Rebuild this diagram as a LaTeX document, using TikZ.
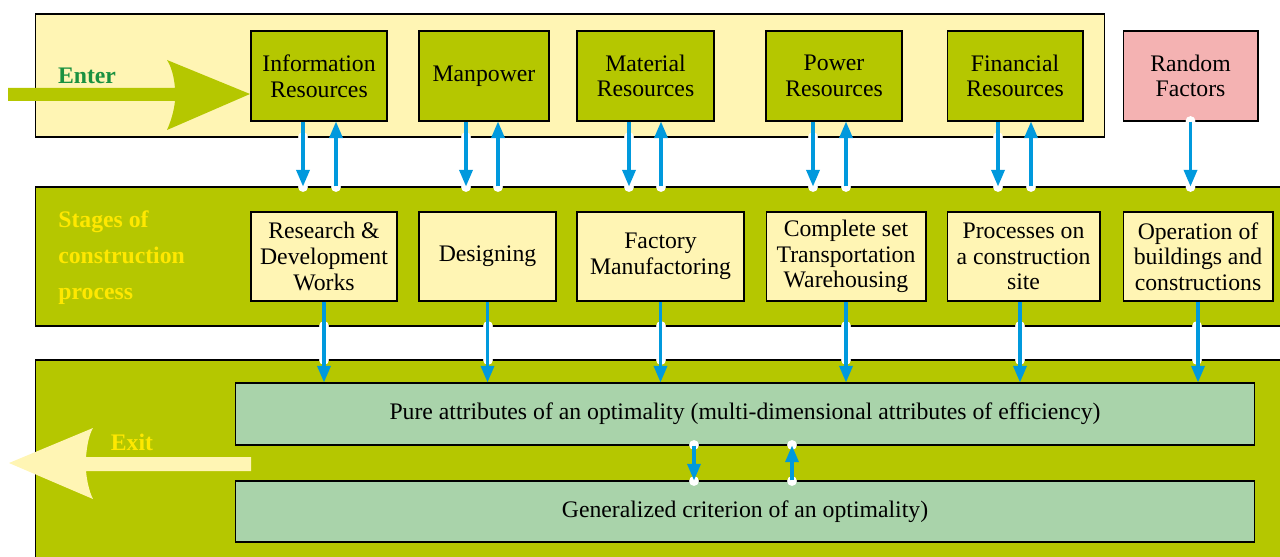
\documentclass[tikz,border=0pt]{standalone}
\usepackage{fontspec}
\setmainfont{Liberation Serif}
\usetikzlibrary{arrows.meta}

\definecolor{bandgreen}{RGB}{181,199,0}
\definecolor{paleyellow}{RGB}{255,245,180}
\definecolor{palepink}{RGB}{244,178,178}
\definecolor{palegreen}{RGB}{169,211,170}
\definecolor{flowblue}{RGB}{0,153,221}
\definecolor{entergreen}{RGB}{26,145,64}
\definecolor{labelyellow}{RGB}{255,232,0}

\begin{document}
\begin{tikzpicture}[x=0.02cm,y=-0.02cm,
  band/.style={draw=black,line width=0.6pt,inner sep=0pt},
  box/.style={draw=black,line width=0.6pt,align=center,inner sep=2pt,
    font=\fontsize{13.5pt}{14.6pt}\selectfont},
  res/.style={box,fill=bandgreen,minimum height=1.8cm},
  stage/.style={box,fill=paleyellow,minimum height=1.78cm},
  crit/.style={box,fill=palegreen,minimum width=20.4cm},
  flow/.style={draw=flowblue,line width=1.8pt,-{Triangle[length=9.5pt,width=7.5pt]}},
  dot/.style={fill=white},
  tag/.style={font=\fontsize{13.5pt}{20.4pt}\selectfont\bfseries,inner sep=0pt}]
  \useasboundingbox (0,0) rectangle (1280,557);

  % bands
  \node[band,fill=paleyellow,minimum width=21.4cm,minimum height=2.46cm] (inbox) at (570,75.5) {};
  \node[band,fill=bandgreen,minimum width=25.3cm,minimum height=2.78cm] (stages) at (667.5,256.5) {};
  \node[band,fill=bandgreen,minimum width=25.3cm,minimum height=4.2cm] (outbox) at (667.5,465) {};

  % enter / exit
  \fill[bandgreen] (8,88) -- (175,88) .. controls (174,76) and (171,66) .. (167,60) -- (250,94)
    -- (167,130) .. controls (171,121) and (174,111) .. (175,101) -- (8,101) -- cycle;
  \fill[paleyellow] (251,457) -- (86,457) .. controls (87,445) and (89,435) .. (93,428) -- (9,463)
    -- (93,499) .. controls (89,491) and (87,481) .. (86,471) -- (251,471) -- cycle;
  \node[tag,text=entergreen] (enter) at (87,76) {Enter};
  \node[tag,text=labelyellow] (exit) at (132,442) {Exit};
  \node[tag,text=labelyellow,align=left,anchor=west] (stagetag) at (58,258) {Stages of\\construction\\process};

  % resources
  \node[res,minimum width=2.72cm] (info) at (319,76) {Information\\Resources};
  \node[res,minimum width=2.6cm] (man) at (484,76) {Manpower};
  \node[res,minimum width=2.74cm] (mat) at (645.5,76) {Material\\Resources};
  \node[res,minimum width=2.72cm] (pow) at (834,76) {Power\\Resources};
  \node[res,minimum width=2.72cm] (fin) at (1015,76) {Financial\\Resources};
  \node[res,fill=palepink,minimum width=2.7cm] (rand) at (1190.5,76) {Random\\Factors};

  % stages
  \node[stage,minimum width=2.92cm] (rd) at (324,256.5) {Research \&\\Development\\Works};
  \node[stage,minimum width=2.74cm] (des) at (487.5,256.5) {Designing};
  \node[stage,minimum width=3.34cm] (fac) at (660.5,256.5) {Factory\\Manufactoring};
  \node[stage,minimum width=3.2cm] (tra) at (846,256.5) {Complete set\\Transportation\\Warehousing};
  \node[stage,minimum width=3.06cm] (site) at (1023.5,256.5) {Processes on\\a construction\\site};
  \node[stage,minimum width=3.0cm] (oper) at (1198,256.5) {Operation of\\buildings and\\constructions};

  % criteria
  \node[crit,minimum height=1.24cm] (pure) at (745,414) {Pure attributes of an optimality (multi-dimensional attributes of efficiency)};
  \node[crit,minimum height=1.22cm] (gen) at (745,511.5) {Generalized criterion of an optimality)};

  % joints
  \foreach \x in {303,466,629,813,998}
    \path[dot] (\x,137) circle (2.8pt) (\x,187) circle (2.8pt);
  \foreach \x in {336,498,661,846,1031}
    \path[dot] (\x,187) circle (2.8pt);
  \path[dot] (1190.5,121) circle (2.8pt) (1190.5,187) circle (2.8pt);
  \foreach \x in {324,488,661,846,1020,1197}
    \path[dot] (\x,326) circle (2.8pt) (\x,360) circle (2.8pt);
  \foreach \x in {694,792}
    \path[dot] (\x,445) circle (2.8pt) (\x,481) circle (2.8pt);

  \draw[flow] (info.south -| 303,0) -- (stages.north -| 303,0);
  \draw[flow] (stages.north -| 336,0) -- (info.south -| 336,0);
  \draw[flow] (man.south -| 466,0) -- (stages.north -| 466,0);
  \draw[flow] (stages.north -| 498,0) -- (man.south -| 498,0);
  \draw[flow] (mat.south -| 629,0) -- (stages.north -| 629,0);
  \draw[flow] (stages.north -| 661,0) -- (mat.south -| 661,0);
  \draw[flow] (pow.south -| 813,0) -- (stages.north -| 813,0);
  \draw[flow] (stages.north -| 846,0) -- (pow.south -| 846,0);
  \draw[flow] (fin.south -| 998,0) -- (stages.north -| 998,0);
  \draw[flow] (stages.north -| 1031,0) -- (fin.south -| 1031,0);
  \draw[flow] (rand.south) -- (rand.south |- stages.north);

  \draw[flow] (rd.south) -- (rd.south |- pure.north);
  \draw[flow] (des.south) -- (des.south |- pure.north);
  \draw[flow] (fac.south) -- (fac.south |- pure.north);
  \draw[flow] (tra.south) -- (tra.south |- pure.north);
  \draw[flow] (site.south -| 1020,0) -- (pure.north -| 1020,0);
  \draw[flow] (oper.south) -- (oper.south |- pure.north);

  \draw[flow] (pure.south -| 694,0) -- (gen.north -| 694,0);
  \draw[flow] (gen.north -| 792,0) -- (pure.south -| 792,0);
\end{tikzpicture}
\end{document}
